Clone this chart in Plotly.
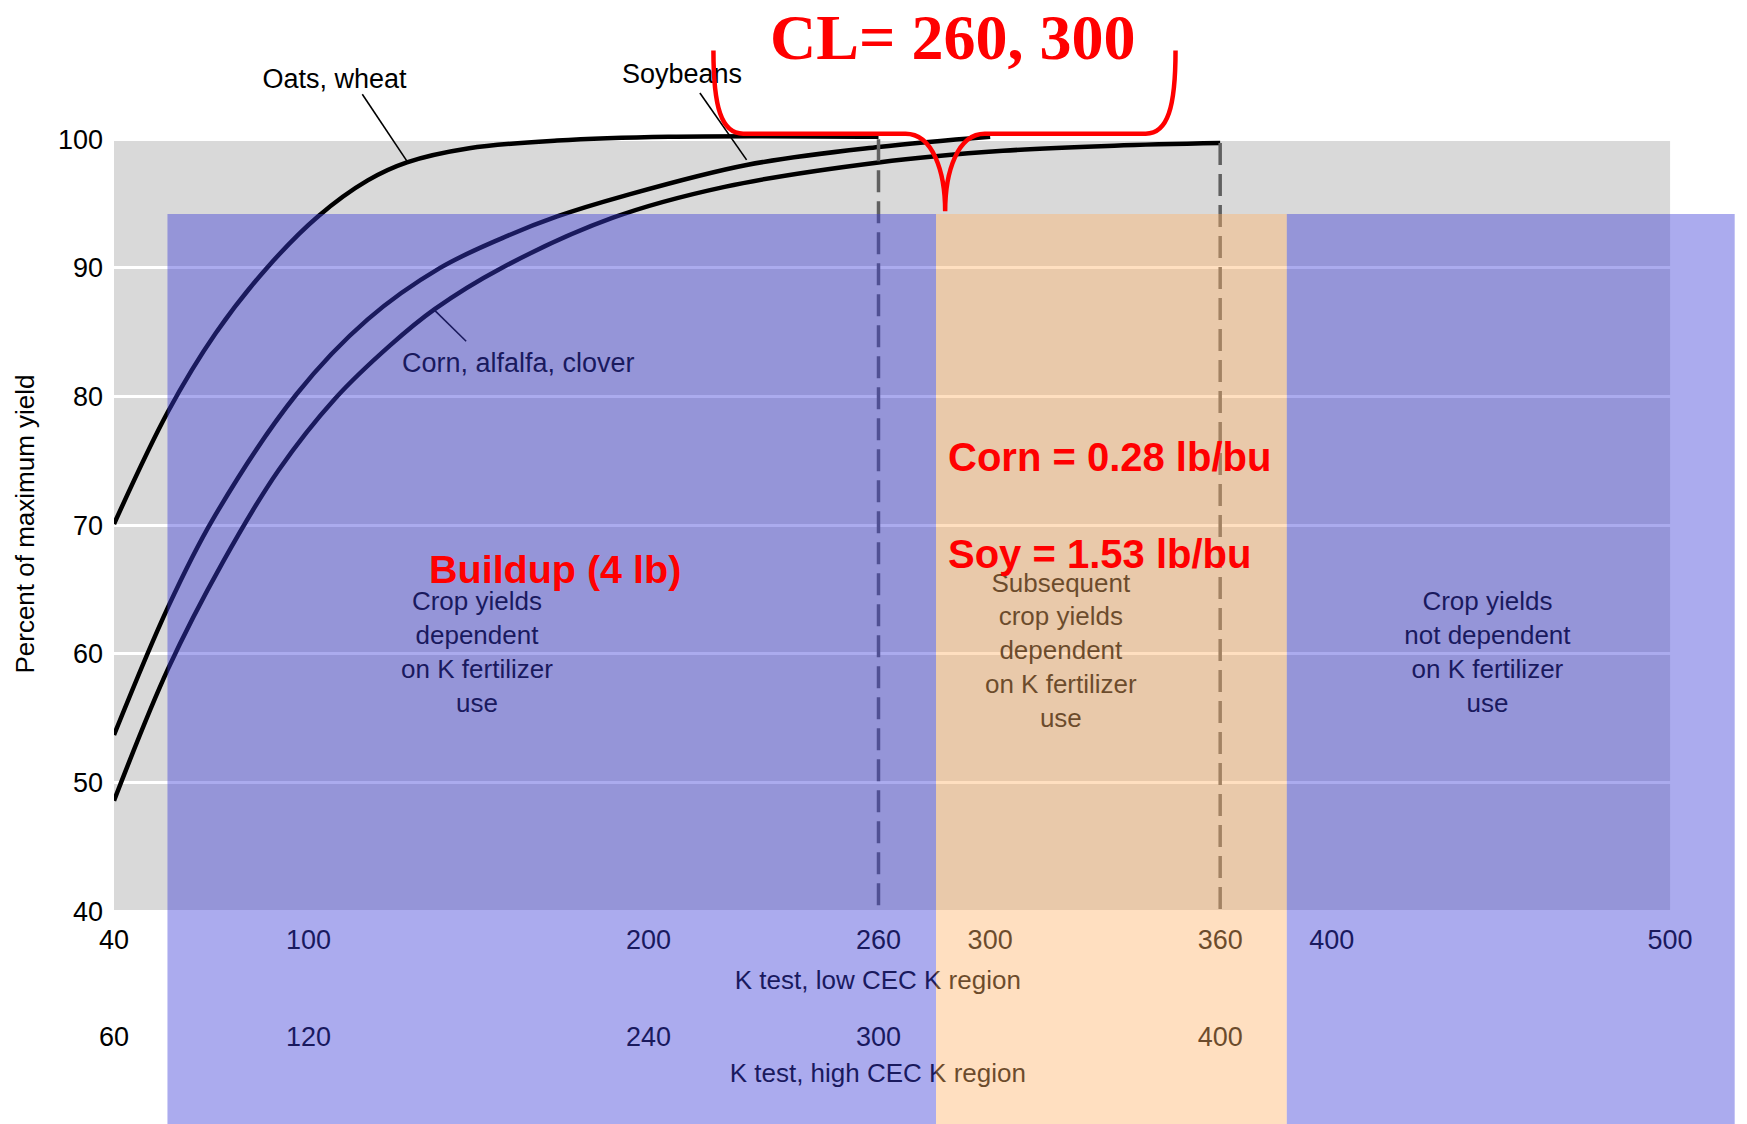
import plotly.graph_objects as go

# ---------------- data ----------------
# K test (low CEC scale, ppm) vs percent of maximum yield
oats_x = [40, 55.9, 70, 85.2, 100.3, 115, 126.6, 145, 171, 204, 266]
oats_y = [70.1, 78.8, 84.9, 90.0, 94.0, 96.8, 98.2, 99.3, 99.9, 100.2, 100.2]

soy_x = [40, 55.9, 69.3, 94, 115, 136.4, 154.6, 171, 190.8, 227, 266, 299]
soy_y = [53.7, 63.6, 70.5, 80.2, 86.0, 90.0, 92.3, 94.0, 95.6, 98.0, 99.4, 100.2]

corn_x = [40, 55.9, 72.3, 88.7, 105.2, 121.7, 134.8, 154.6, 187.5, 220.5, 266, 302.8, 335.7, 367]
corn_y = [48.6, 58.8, 67.2, 74.3, 79.8, 84.0, 86.8, 90.0, 93.9, 96.3, 98.2, 99.1, 99.5, 99.7]

# critical-level markers (positions on the low-CEC axis)
cl_pos = [266, 367]
cl_top = [100.0, 99.7]

# axis ticks
y_ticks = [40, 50, 60, 70, 80, 90, 100]
low_cec_pos = [40, 97.5, 198, 266, 299, 367, 400, 500]
low_cec_txt = ["40", "100", "200", "260", "300", "360", "400", "500"]
high_cec_pos = [40, 97.5, 198, 266, 367]
high_cec_txt = ["60", "120", "240", "300", "400"]

# zones (x ranges)
blue_left = [55.8, 283.0]
orange_zone = [283.0, 386.7]
blue_right = [386.7, 519.1]
zone_top = 94.2

x_range = [40, 525.1]
y_range = [22.85, 110.2]

# ---------------- figure ----------------
fig = go.Figure()

curve_style = dict(color="black", width=4.5)
for xs, ys, name in [(oats_x, oats_y, "Oats, wheat"),
                     (soy_x, soy_y, "Soybeans"),
                     (corn_x, corn_y, "Corn, alfalfa, clover")]:
    fig.add_trace(go.Scatter(x=xs, y=ys, mode="lines", name=name,
                             line=dict(shape="spline", smoothing=1.0, **curve_style),
                             showlegend=False, hoverinfo="skip"))

# dashed critical-level lines
for xp, yt in zip(cl_pos, cl_top):
    fig.add_trace(go.Scatter(x=[xp, xp], y=[yt, 40], mode="lines",
                             line=dict(color="#606060", width=3.5, dash="22px,9px"),
                             showlegend=False, hoverinfo="skip"))

# pointer lines from labels to curves
pointers = [([113.4, 126.6], [103.5, 98.3]),
            ([213.2, 227.0], [103.6, 98.4]),
            ([134.8, 144.1], [86.7, 84.3])]
for px, py in pointers:
    fig.add_trace(go.Scatter(x=px, y=py, mode="lines",
                             line=dict(color="black", width=1.6),
                             showlegend=False, hoverinfo="skip"))

# curve labels and zone texts (drawn under the tint overlays)
lab_x = [105.2, 207.9, 159.5]
lab_y = [104.5, 104.9, 82.4]
lab_t = ["Oats, wheat", "Soybeans", "Corn, alfalfa, clover"]
fig.add_trace(go.Scatter(x=lab_x, y=lab_y, mode="text", text=lab_t,
                         textfont=dict(size=27, color="black"),
                         showlegend=False, hoverinfo="skip"))

zone_x = [147.3, 319.9, 446.0]
zone_y = [59.95, 60.1, 59.95]
zone_t = ["Crop yields<br>dependent<br>on K fertilizer<br>use",
          "Subsequent<br>crop yields<br>dependent<br>on K fertilizer<br>use",
          "Crop yields<br>not dependent<br>on K fertilizer<br>use"]
fig.add_trace(go.Scatter(x=zone_x, y=zone_y, mode="text", text=zone_t,
                         textfont=dict(size=26, color="black"),
                         showlegend=False, hoverinfo="skip"))

# axis titles for the two K-test scales
fig.add_trace(go.Scatter(x=[265.8, 265.8], y=[34.45, 27.25], mode="text",
                         text=["K test, low CEC K region", "K test, high CEC K region"],
                         textfont=dict(size=26, color="black"),
                         showlegend=False, hoverinfo="skip"))

shapes = [
    dict(type="rect", xref="x", yref="y", x0=40, x1=500, y0=40, y1=100,
         fillcolor="#d9d9d9", line=dict(width=0), layer="below"),
    dict(type="rect", xref="x", yref="y", x0=blue_left[0], x1=blue_left[1],
         y0=y_range[0], y1=zone_top, fillcolor="rgba(60,60,215,0.43)",
         line=dict(width=0), layer="above"),
    dict(type="rect", xref="x", yref="y", x0=orange_zone[0], x1=orange_zone[1],
         y0=y_range[0], y1=zone_top, fillcolor="rgba(255,178,105,0.42)",
         line=dict(width=0), layer="above"),
    dict(type="rect", xref="x", yref="y", x0=blue_right[0], x1=blue_right[1],
         y0=y_range[0], y1=zone_top, fillcolor="rgba(60,60,215,0.43)",
         line=dict(width=0), layer="above"),
    dict(type="path", xref="x", yref="y", layer="above",
         path=("M 217.2,106.9 C 217.2,102.5 219.5,100.43 226,100.43 L 274,100.43 "
               "C 282,100.43 285.7,97.5 285.7,94.4 C 285.7,97.5 289.4,100.43 297.4,100.43 "
               "L 345,100.43 C 351.5,100.43 353.8,102.5 353.8,106.9"),
         line=dict(color="#ff0000", width=4.5)),
]

red = "#ff0000"
annotations = [
    dict(x=288, y=107.9, xref="x", yref="y", text="<b>CL= 260, 300</b>", showarrow=False,
         font=dict(family="Liberation Serif, Times New Roman, serif", size=64, color=red)),
    dict(x=170.4, y=66.58, xref="x", yref="y", text="<b>Buildup (4 lb)</b>", showarrow=False,
         font=dict(size=39.5, color=red)),
    dict(x=286.0, y=75.32, xref="x", yref="y", text="<b>Corn = 0.28 lb/bu</b>", showarrow=False,
         xanchor="left", font=dict(size=40, color=red)),
    dict(x=286.0, y=67.79, xref="x", yref="y", text="<b>Soy = 1.53 lb/bu</b>", showarrow=False,
         xanchor="left", font=dict(size=40, color=red)),
    dict(x=-0.0545, y=70.1, xref="paper", yref="y", text="Percent of maximum yield",
         textangle=-90, showarrow=False, xanchor="center", yanchor="middle",
         font=dict(size=26, color="black")),
]

ypos_axis1 = (40 - y_range[0]) / (y_range[1] - y_range[0])

fig.update_layout(
    width=1747, height=1124,
    margin=dict(l=106, r=0, t=0, b=0),
    paper_bgcolor="white", plot_bgcolor="white",
    font=dict(family="Liberation Sans, Arial, sans-serif", color="black"),
    showlegend=False,
    shapes=shapes,
    annotations=annotations,
    xaxis=dict(range=x_range, anchor="free", position=ypos_axis1,
               showgrid=False, zeroline=False, showline=False, ticks="",
               tickmode="array", tickvals=low_cec_pos, ticktext=low_cec_txt,
               tickfont=dict(size=27, color="black"), ticklabelstandoff=10),
    xaxis2=dict(range=x_range, overlaying="x", anchor="free", position=0.112, side="bottom",
                showgrid=False, zeroline=False, showline=False, ticks="",
                tickmode="array", tickvals=high_cec_pos, ticktext=high_cec_txt,
                tickfont=dict(size=27, color="black"), ticklabelstandoff=12),
    yaxis=dict(range=y_range, domain=[0, 1], anchor="x",
               tickmode="array", tickvals=y_ticks, showgrid=True,
               gridcolor="white", gridwidth=2.5, zeroline=False, showline=False,
               ticks="", tickfont=dict(size=27, color="black"), ticklabelstandoff=10),
)

# invisible marker so xaxis2 is drawn
fig.add_trace(go.Scatter(x=[40], y=[40], xaxis="x2", mode="markers",
                         marker=dict(opacity=0), showlegend=False, hoverinfo="skip"))

fig.write_html("out.html")
